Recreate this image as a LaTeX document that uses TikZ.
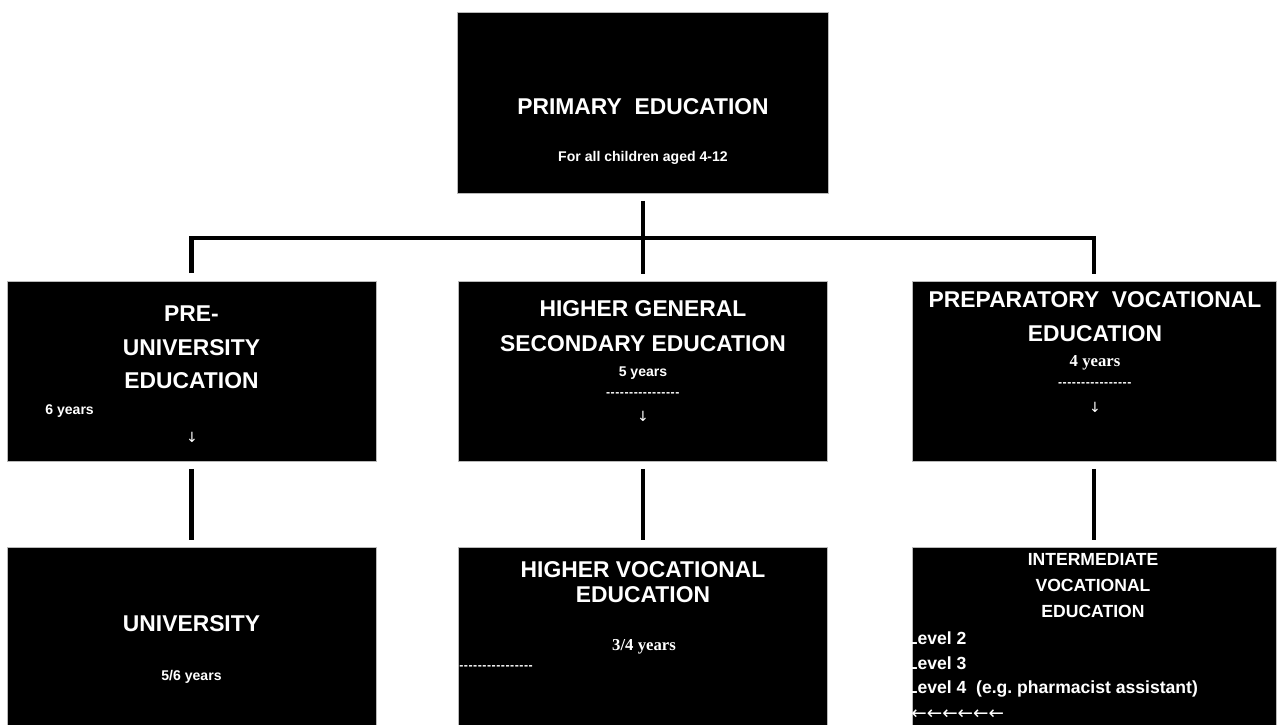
\documentclass[tikz,border=0pt]{standalone}
\usepackage{fontspec}
\setmainfont{Liberation Sans}
\newfontfamily\timesfont{Liberation Serif}
\newfontfamily\symbfont{DejaVu Sans}

% a row of small dashes, as the text shows it
\newcommand{\dashrow}[1]{\foreach \k in {1,...,#1}{-\kern0.3pt}}

\begin{document}
\begin{tikzpicture}[box/.style = {rectangle, draw = gray!55, line width = 0.4pt,
	fill = black, inner sep = 0pt},
	head/.style = {text = white, align = center, inner sep = 0pt,
	font = \bfseries\fontsize{13}{19}\selectfont},
	note/.style = {text = white, inner sep = 0pt, font = \bfseries\fontsize{8}{10}\selectfont},
	serifnote/.style = {text = white, inner sep = 0pt, font = \timesfont\bfseries\fontsize{9.5}{11}\selectfont},
	level/.style = {text = white, anchor = west, inner sep = 0pt, font = \bfseries\fontsize{10}{12}\selectfont},
	sym/.style = {text = white, inner sep = 0pt, font = \symbfont\fontsize{8}{10}\selectfont},
	link/.style = {line width = 2.8pt, shorten < = 0.15cm, shorten > = 0.14cm}]

	\useasboundingbox (0, 0) rectangle (25.56, 14.5);

		% boxes
		\node (PE)   at (12.86, 12.45) [box, minimum width = 7.42cm, minimum height = 3.62cm] {};
		\node (PUE)  at ( 3.83,  7.08) [box, minimum width = 7.38cm, minimum height = 3.60cm] {};
		\node (HGSE) at (12.86,  7.08) [box, minimum width = 7.38cm, minimum height = 3.60cm] {};
		\node (PVE)  at (21.88,  7.08) [box, minimum width = 7.28cm, minimum height = 3.60cm] {};
		\node (UNI)  at ( 3.83,  1.78) [box, minimum width = 7.38cm, minimum height = 3.56cm] {};
		\node (HVE)  at (12.86,  1.78) [box, minimum width = 7.38cm, minimum height = 3.56cm] {};
		\node (IVE)  at (21.88,  1.78) [box, minimum width = 7.28cm, minimum height = 3.56cm] {};

		% texts
		\node (PE-t)   at (12.86, 12.37) [head] {PRIMARY\ \ EDUCATION};
		\node (PE-s)   at (12.86, 11.34) [note] {For all children aged 4-12};

		\node (PUE-t)  at ( 3.83,  7.55) [head] {PRE-\\UNIVERSITY\\EDUCATION};
		\node (PUE-s)  at ( 0.90,  6.27) [note, anchor = west] {6 years};
		\node (PUE-a)  at ( 3.84,  5.76) [sym] {↓};

		\node (HGSE-t) at (12.86,  7.98) [head, font = \bfseries\fontsize{13}{20}\selectfont]
			{HIGHER GENERAL\\SECONDARY EDUCATION};
		\node (HGSE-s) at (12.86,  7.04) [note] {5 years};
		\node (HGSE-d) at (12.86,  6.60) [note, font = \bfseries\fontsize{7}{8}\selectfont] {\dashrow{16}};
		\node (HGSE-a) at (12.86,  6.18) [sym] {↓};

		\node (PVE-t)  at (21.90,  8.17) [head] {PREPARATORY\ \ VOCATIONAL\\EDUCATION};
		\node (PVE-s)  at (21.90,  7.24) [serifnote] {4 years};
		\node (PVE-d)  at (21.90,  6.80) [note, font = \bfseries\fontsize{7}{8}\selectfont] {\dashrow{16}};
		\node (PVE-a)  at (21.90,  6.36) [sym] {↓};

		\node (UNI-t)  at ( 3.83,  2.03) [head] {UNIVERSITY};
		\node (UNI-s)  at ( 3.83,  0.97) [note] {5/6 years};

		\node (HVE-t)  at (12.86,  2.85) [head, font = \bfseries\fontsize{13}{14.2}\selectfont]
			{HIGHER VOCATIONAL\\EDUCATION};
		\node (HVE-s)  at (12.88,  1.56) [serifnote] {3/4 years};
		\node (HVE-d)  at ( 9.18,  1.14) [note, anchor = west, font = \bfseries\fontsize{7}{8}\selectfont] {\dashrow{16}};

		\node (IVE-t)  at (21.86,  2.78) [head, font = \bfseries\fontsize{10}{14.8}\selectfont]
			{INTERMEDIATE\\VOCATIONAL\\EDUCATION};
		\node (IVE-l2) at (18.13,  1.73) [level] {Level 2};
		\node (IVE-l3) at (18.13,  1.23) [level] {Level 3};
		\node (IVE-l4) at (18.13,  0.72) [level] {Level 4\ \ (e.g.\ pharmacist assistant)};
		\node (IVE-a)  at (18.22,  0.20) [sym, anchor = west, font = \symbfont\fontsize{10.5}{12}\selectfont] {←←←←←←};

		% connectors
		\coordinate (split) at (12.86, 9.74);
		\draw [link] (PE) -- (HGSE);
		\draw [link] (PUE.north) |- (split) -| (PVE.north);

		\foreach \from/\to in {PUE/UNI, HGSE/HVE, PVE/IVE}
			\draw [link] (\from) -- (\to);

\end{tikzpicture}
\end{document}
